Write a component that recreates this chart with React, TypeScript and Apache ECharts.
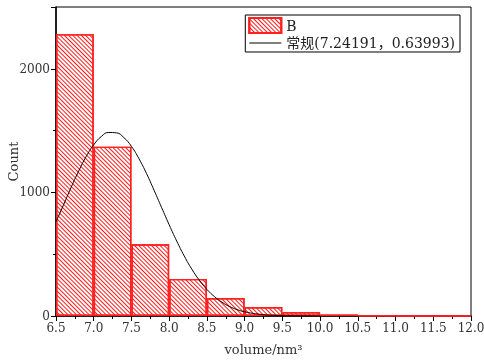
import React, { useEffect, useRef } from "react";
import * as echarts from "echarts";

const binStarts = ["6.5", "7.0", "7.5", "8.0", "8.5", "9.0", "9.5", "10.0", "10.5", "11.0", "11.5"];
const counts = [2280, 1370, 580, 300, 145, 72, 32, 12, 4, 1, 1];
const curveX = [6.5, 6.6, 6.7, 6.8, 6.9, 7.0, 7.1, 7.2, 7.3, 7.4, 7.5, 7.6, 7.7, 7.8, 7.9, 8.0, 8.1, 8.2, 8.3, 8.4, 8.5, 8.6, 8.7, 8.8, 8.9, 9.0, 9.2, 9.4, 9.6, 9.8, 10.0];
const curveY = [762, 900, 1040, 1172, 1290, 1385, 1452, 1485, 1482, 1443, 1372, 1272, 1152, 1017, 877, 738, 606, 485, 379, 289, 215, 157, 111, 77, 52, 34, 14, 5, 2, 1, 0];
const seriesNames = ["B", "常规(7.24191，0.63993)"];

const FONT = "'DejaVu Serif', 'Noto Sans CJK SC', serif";

export default function App() {
  const ref = useRef<HTMLDivElement>(null);
  useEffect(() => {
    if (!ref.current) return;
    const chart = echarts.init(ref.current, null, { renderer: "svg" });
    const decal = {
      symbol: "rect",
      symbolSize: 1,
      color: "#ff1a1a",
      backgroundColor: "#ffffff",
      dashArrayX: [1, 0],
      dashArrayY: [1, 2],
      rotation: Math.PI / 4,
    };
    chart.setOption({
      animation: false,
      textStyle: { fontFamily: FONT },
      grid: {
        left: 56,
        right: 13,
        top: 7,
        bottom: 47,
        show: true,
        borderColor: "#000",
        borderWidth: 1,
        backgroundColor: "transparent",
        containLabel: false,
        outerBoundsMode: "none",
      },
      legend: {
        right: 24,
        top: 15,
        orient: "vertical",
        itemWidth: 32,
        itemHeight: 15,
        itemGap: 2,
        padding: [2, 5, 2, 3],
        borderColor: "#000",
        borderWidth: 1,
        backgroundColor: "#fff",
        textStyle: { fontFamily: FONT, fontSize: 14, color: "#222" },
        data: [
          { name: seriesNames[0], icon: "rect" },
          { name: seriesNames[1], icon: "path://M0,0H32V1H0Z" },
        ],
      },
      xAxis: [
        {
          type: "value",
          min: 6.5,
          max: 12,
          interval: 0.5,
          name: "volume/nm³",
          nameLocation: "middle",
          nameGap: 27,
          nameMoveOverlap: false,
          nameTextStyle: { fontFamily: FONT, fontSize: 13, color: "#333" },
          axisLine: { show: true, lineStyle: { color: "#000", width: 1.5 } },
          axisTick: { show: true, length: 5, lineStyle: { color: "#000" } },
          minorTick: { show: true, splitNumber: 2, length: 3, lineStyle: { color: "#000" } },
          splitLine: { show: false },
          axisLabel: {
            color: "#333",
            fontSize: 12,
            fontFamily: FONT,
            margin: 6,
            formatter: (v: number) => v.toFixed(1),
          },
        },
        {
          type: "category",
          data: binStarts,
          show: false,
          boundaryGap: true,
        },
      ],
      yAxis: {
        type: "value",
        min: 0,
        max: 2500,
        interval: 1000,
        name: "Count",
        nameLocation: "middle",
        nameGap: 36,
        nameMoveOverlap: false,
        nameTextStyle: { fontFamily: FONT, fontSize: 13, color: "#333" },
        axisLine: { show: true, lineStyle: { color: "#000", width: 1.5 } },
        axisTick: { show: true, length: 5, lineStyle: { color: "#000" } },
        minorTick: { show: true, splitNumber: 2, length: 3, lineStyle: { color: "#000" } },
        splitLine: { show: false },
        axisLabel: {
          color: "#333",
          fontSize: 12,
          fontFamily: FONT,
          margin: 6,
          formatter: (v: number) => (v > 2000 ? "" : String(v)),
        },
      },
      series: [
        {
          name: seriesNames[0],
          type: "bar",
          xAxisIndex: 1,
          yAxisIndex: 0,
          data: counts,
          barCategoryGap: "0%",
          barWidth: "100%",
          itemStyle: {
            color: "#ffffff",
            borderColor: "#ff2020",
            borderWidth: 1.4,
            decal,
          },
          z: 2,
        },
        {
          name: seriesNames[1],
          type: "line",
          xAxisIndex: 0,
          yAxisIndex: 0,
          data: curveX.map((x, i) => [x, curveY[i]]),
          smooth: true,
          symbol: "none",
          lineStyle: { color: "#000", width: 1 },
          itemStyle: { color: "#000" },
          z: 3,
        },
      ],
    });
    return () => chart.dispose();
  }, []);
  return (
    <div
      ref={ref}
      style={{ position: "fixed", left: 0, top: 0, width: 484, height: 363 }}
    />
  );
}
